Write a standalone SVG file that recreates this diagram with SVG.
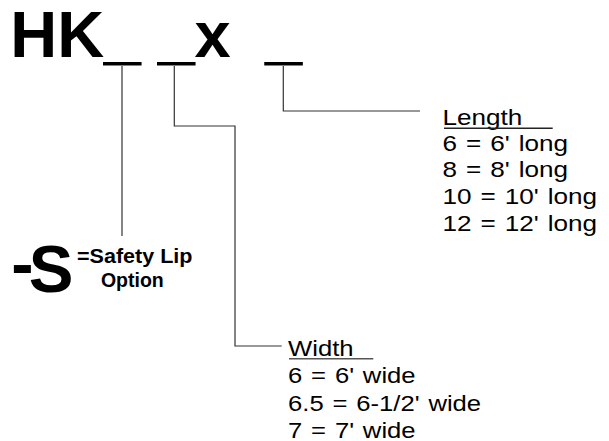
<svg xmlns="http://www.w3.org/2000/svg" width="609" height="441" viewBox="0 0 609 441">
<style>
.bold{font-family:"Liberation Sans",Arial,sans-serif;font-weight:bold;fill:#000}
.reg{font-family:"Liberation Sans",Arial,sans-serif;font-size:22.5px;word-spacing:1.5px;fill:#000}
.us{stroke:#000;stroke-width:1.2}
.conn{fill:none;stroke:#333;stroke-width:1.2}
.ul{stroke:#222;stroke-width:1.4}
</style>
<rect width="609" height="441" fill="#fff"/>
<g id="title">
<text class="bold" font-size="65" y="57.3"><tspan x="10.3">HK</tspan><tspan class="us" x="104.2">_</tspan><tspan class="us" x="158.3">_</tspan><tspan x="194.4">x</tspan><tspan class="us" x="265.5">_</tspan></text>
</g>
<g id="connectors">
<polyline class="conn" points="122,66 122,236"/>
<polyline class="conn" points="174.3,66 174.3,126 235,126 235,346 281.7,346"/>
<polyline class="conn" points="283.3,66 283.3,111 420,111"/>
</g>
<g id="safety-lip">
<text class="bold" font-size="67" x="11.3" y="286">-<tspan x="28.7" y="292">S</tspan></text>
<text class="bold" font-size="19.5" x="77" y="263.3" textLength="115.5" lengthAdjust="spacingAndGlyphs">=Safety Lip</text>
<text class="bold" font-size="19.5" x="100.9" y="286.7">Option</text>
</g>
<g id="length">
<g transform="translate(442.5,0) scale(1.16,1)">
<text class="reg" x="0" y="125.3">Length</text>
<text class="reg" x="0" y="151">6 = 6' long</text>
<text class="reg" x="0" y="177.5">8 = 8' long</text>
<text class="reg" x="0" y="204.2">10 = 10' long</text>
<text class="reg" x="0" y="231">12 = 12' long</text>
</g>
<line class="ul" x1="444" y1="128.3" x2="552.7" y2="128.3"/>
</g>
<g id="width">
<g transform="translate(288,0) scale(1.14,1)">
<text class="reg" x="0" y="356.5">Width</text>
<text class="reg" x="0" y="383.5">6 = 6' wide</text>
<text class="reg" x="0" y="411">6.5 = 6-1/2' wide</text>
<text class="reg" x="0" y="438">7 = 7' wide</text>
</g>
<line x1="289" y1="358.8" x2="373.3" y2="358.8" stroke="#555" stroke-width="1.4"/>
</g>
</svg>
